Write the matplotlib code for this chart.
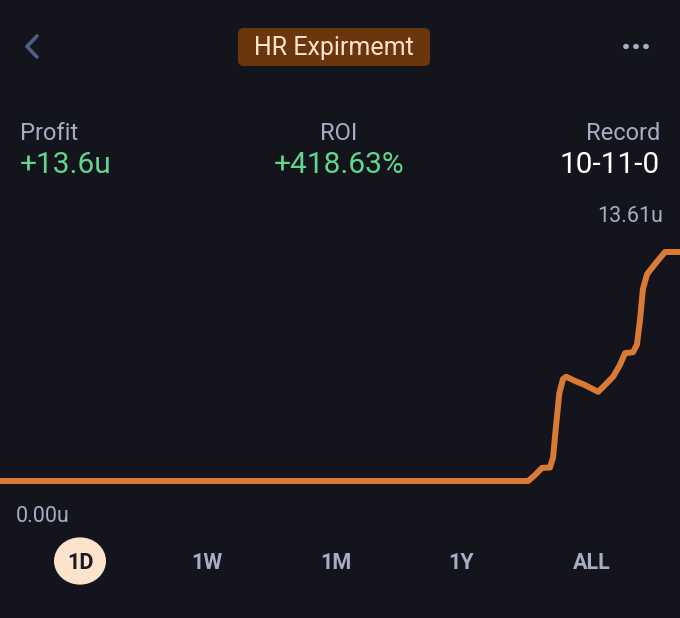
import matplotlib
matplotlib.use("Agg")
import matplotlib.pyplot as plt
from matplotlib.patches import FancyBboxPatch, Circle
from matplotlib.lines import Line2D

# ---- data ----
hours = [0, 18.64, 18.88, 19.13, 19.41, 19.52, 19.62, 19.74, 19.87, 19.98, 20.29, 20.65,
         21.11, 21.35, 21.64, 21.88, 22.06, 22.34, 22.48, 22.59, 22.69, 22.84,
         23.12, 23.47, 24.0]
profit = [0, 0, 0.35, 0.78, 0.8, 1.4, 3.2, 5.2, 6.05, 6.2, 5.95, 5.7,
          5.3, 5.7, 6.2, 6.9, 7.6, 7.65, 8.1, 9.6, 11.4, 12.3,
          12.9, 13.61, 13.61]
title = "HR Expirmemt"
stat_labels = ["Profit", "ROI", "Record"]
stat_values = ["+13.6u", "+418.63%", "10-11-0"]
max_label = "13.61u"
min_label = "0.00u"
ranges = ["1D", "1W", "1M", "1Y", "ALL"]

BG = "#13141c"
GREY = "#a7adc4"
GREEN = "#62d68c"
ORANGE = "#d97b35"
FONT = ["Roboto", "DejaVu Sans"]

W, H = 680, 618
fig = plt.figure(figsize=(6.8, 6.18), dpi=100, facecolor=BG)

def fx(px):
    return px / W

def fy(py):
    return 1 - py / H

# chart axes: pixel rows 240..500
top_px, bot_px = 240, 500
ax = fig.add_axes([0, fy(bot_px), 1, (bot_px - top_px) / H])
ax.set_facecolor(BG)
for s in ax.spines.values():
    s.set_visible(False)
ax.set_xticks([])
ax.set_yticks([])
# zero at px 481, max (13.61) at px 252
ppu = (481 - 252) / 13.61
ax.set_ylim(-(bot_px - 481) / ppu, 13.61 + (252 - top_px) / ppu)
ax.set_xlim(0, 24)
ax.plot(hours, profit, color=ORANGE, lw=4.3, solid_joinstyle="round",
        solid_capstyle="butt", clip_on=False)

# header
fig.add_artist(Line2D([fx(37), fx(27), fx(37)], [fy(36), fy(46.5), fy(57)],
                      color="#4e6185", lw=2.6, solid_capstyle="round",
                      solid_joinstyle="round"))
box = FancyBboxPatch((fx(238), fy(66)), fx(430) - fx(238), fy(28) - fy(66),
                     boxstyle="round,pad=0,rounding_size=0.009",
                     transform=fig.transFigure, facecolor="#6b360d",
                     edgecolor="none")
fig.add_artist(box)
fig.text(fx(334), fy(48), title, color="#fde3cc", fontsize=18, family=FONT,
         ha="center", va="center")
for dx in (-10, 0, 10):
    fig.add_artist(Circle((fx(636 + dx), fy(46.5)), 2.9 / W, transform=fig.transFigure,
                          facecolor=GREY, edgecolor="none"))

# stats
xs = [(20, "left"), (339, "center"), (660, "right")]
for (x, ha), lab, val in zip(xs, stat_labels, stat_values):
    fig.text(fx(x), fy(134), lab, color=GREY, fontsize=17, family=FONT, ha=ha, va="center")
    col = "white" if lab == "Record" else GREEN
    fig.text(fx(x), fy(165), val, color=col, fontsize=21.5, family=FONT, ha=ha, va="center")

fig.text(fx(663), fy(217), max_label, color=GREY, fontsize=15.5, family=FONT, ha="right", va="center")
fig.text(fx(16), fy(517), min_label, color=GREY, fontsize=15.5, family=FONT, ha="left", va="center")

# range buttons
bx = [80, 207, 336, 461, 592]
for x, r in zip(bx, ranges):
    if r == "1D":
        fig.add_artist(Circle((fx(x), fy(561)), 26 / W, transform=fig.transFigure,
                              facecolor="#fde3cc", edgecolor="none"))
        c = "#1a1a22"
    else:
        c = GREY
    fig.text(fx(x), fy(563), r, color=c, fontsize=15.5, family=FONT, weight="bold",
             ha="center", va="center")

fig.savefig("out.png", dpi=100, facecolor=BG)
